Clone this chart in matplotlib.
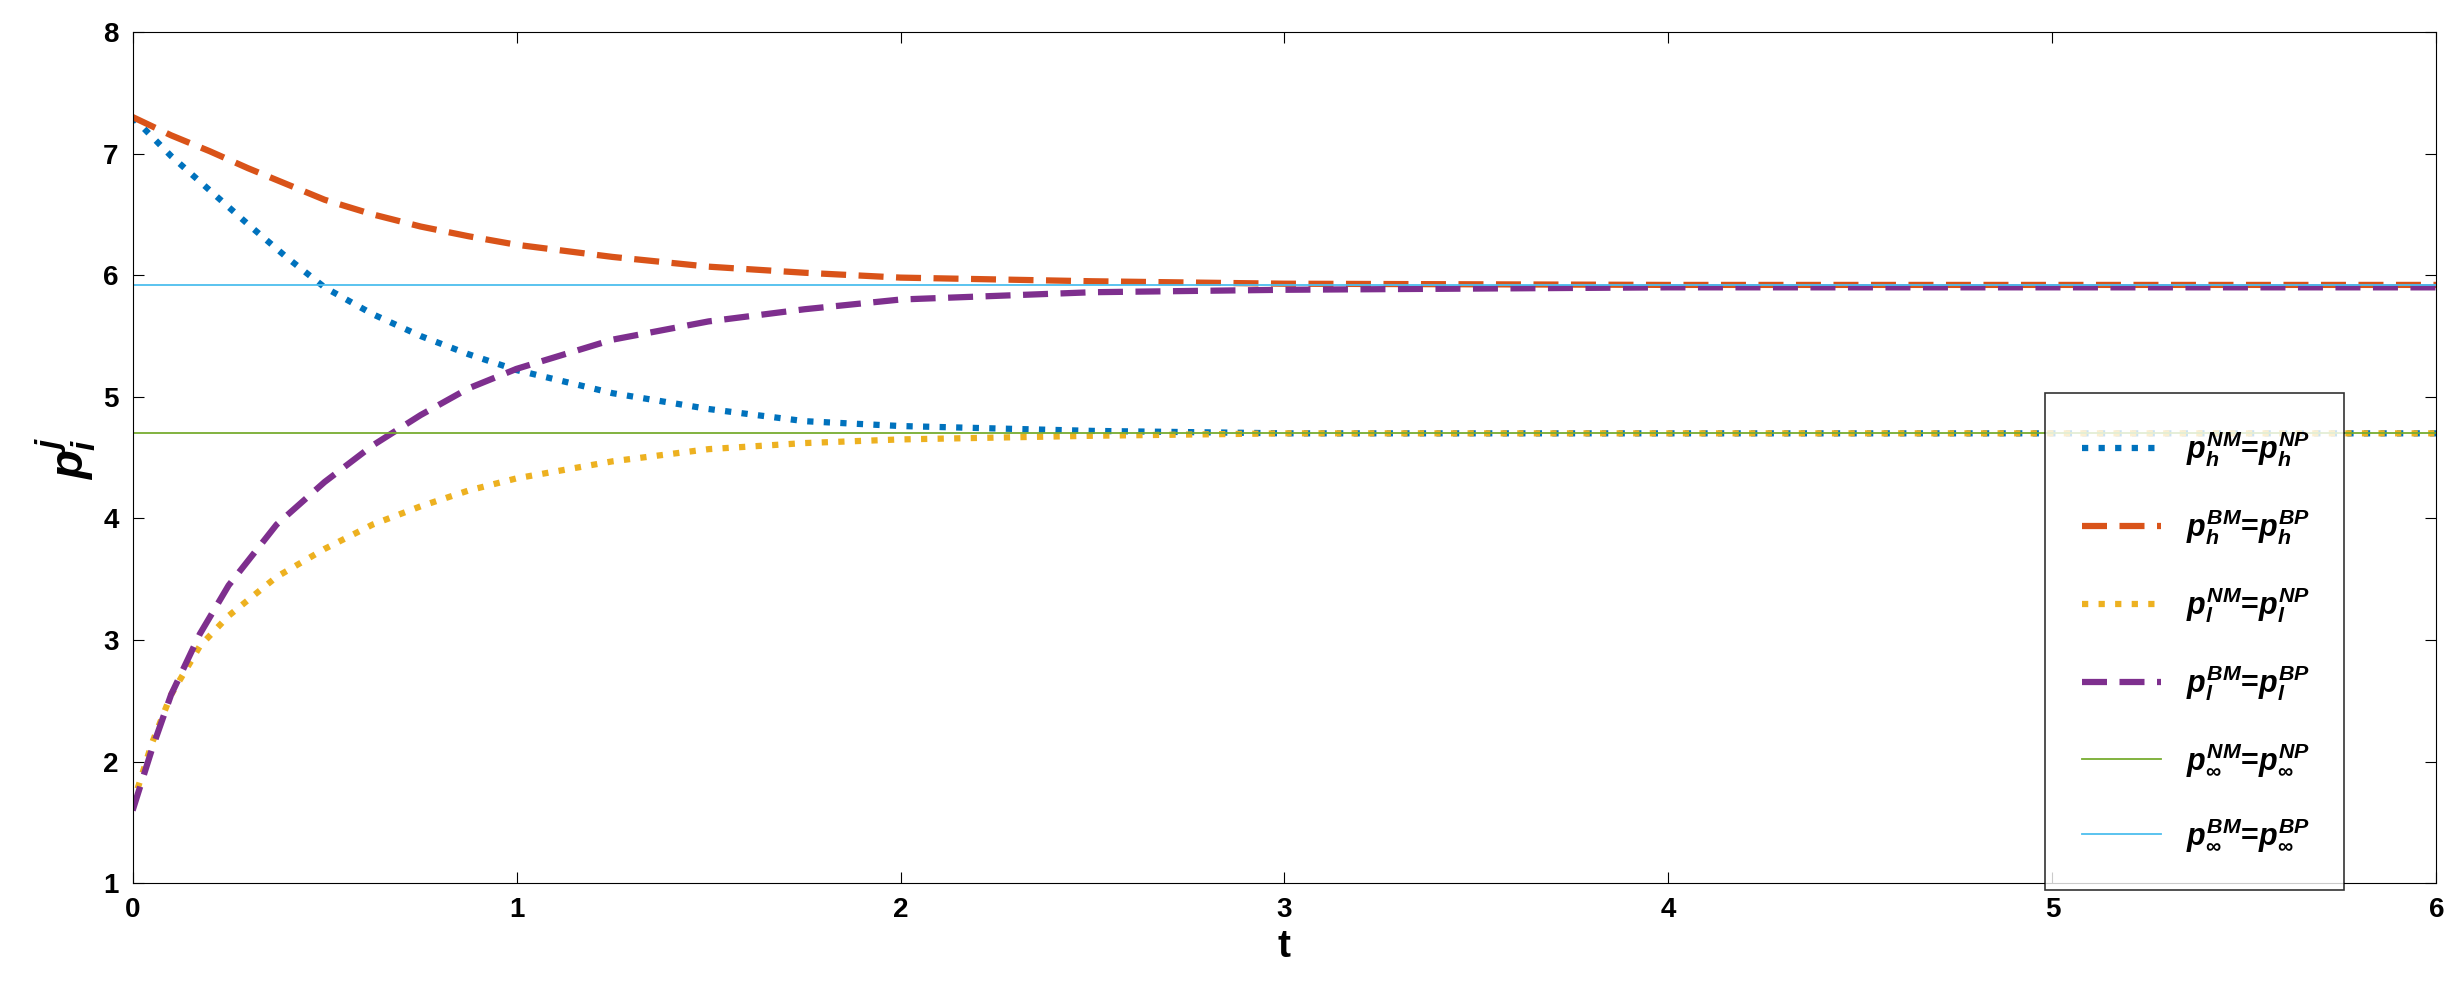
import matplotlib
matplotlib.use("Agg")
import matplotlib.pyplot as plt

plt.rcParams['font.family'] = ['Liberation Sans', 'DejaVu Sans']
plt.rcParams['font.weight'] = 'bold'
plt.rcParams['mathtext.fontset'] = 'custom'
plt.rcParams['mathtext.it'] = 'Liberation Sans:italic:bold'
plt.rcParams['mathtext.rm'] = 'Liberation Sans:bold'
plt.rcParams['mathtext.bf'] = 'Liberation Sans:bold'

t_h = [0, 0.1, 0.2, 0.3, 0.4, 0.5, 0.625, 0.75, 0.875, 1.0, 1.25, 1.5, 1.75, 2.0, 2.5, 3.0, 4.0, 6.0]
p_h_N = [7.3, 6.98, 6.7, 6.42, 6.15, 5.9, 5.68, 5.5, 5.35, 5.22, 5.03, 4.9, 4.8, 4.76, 4.72, 4.7, 4.7, 4.7]
p_h_B = [7.3, 7.15, 7.02, 6.88, 6.75, 6.62, 6.5, 6.4, 6.32, 6.25, 6.15, 6.07, 6.02, 5.98, 5.95, 5.93, 5.92, 5.92]
t_l = [0, 0.05, 0.1, 0.175, 0.25, 0.375, 0.5, 0.625, 0.75, 0.875, 1.0, 1.25, 1.5, 1.75, 2.0, 2.5, 3.0, 4.0, 6.0]
p_l_N = [1.65, 2.15, 2.55, 2.95, 3.2, 3.52, 3.75, 3.95, 4.1, 4.23, 4.33, 4.47, 4.57, 4.62, 4.65, 4.68, 4.7, 4.7, 4.7]
p_l_B = [1.6, 2.1, 2.55, 3.05, 3.45, 3.95, 4.3, 4.6, 4.85, 5.07, 5.23, 5.47, 5.62, 5.72, 5.8, 5.86, 5.88, 5.9, 5.9]
p_inf_N = 4.7
p_inf_B = 5.92

fig = plt.figure(figsize=(24.56, 9.96), dpi=100)
ax = fig.add_axes([0.054, 0.113, 0.938, 0.855])
ax.plot(t_h, p_h_N, ':', color='#0072BD', lw=4.5, label=r'$p_h^{NM}$=$p_h^{NP}$')
ax.plot(t_h, p_h_B, '--', color='#D95319', lw=4.5, dashes=(4, 2), label=r'$p_h^{BM}$=$p_h^{BP}$')
ax.plot(t_l, p_l_N, ':', color='#EDB120', lw=4.5, label=r'$p_l^{NM}$=$p_l^{NP}$')
ax.plot(t_l, p_l_B, '--', color='#7E2F8E', lw=4.5, dashes=(4, 2), label=r'$p_l^{BM}$=$p_l^{BP}$')
ax.axhline(p_inf_N, color='#77AC30', lw=1.3, label=r'$p_\infty^{NM}$=$p_\infty^{NP}$')
ax.axhline(p_inf_B, color='#4DBEEE', lw=1.3, label=r'$p_\infty^{BM}$=$p_\infty^{BP}$')
ax.set_xlim(0, 6)
ax.set_ylim(1, 8)
ax.tick_params(labelsize=20, direction='in', length=8, top=True, right=True, pad=10)
for l in ax.get_xticklabels() + ax.get_yticklabels():
    l.set_fontweight('bold')
ax.set_xlabel('t', fontsize=28, fontweight='bold')
ax.set_ylabel(r'$p_i^j$', fontsize=34)
leg = ax.legend(loc='upper left', bbox_to_anchor=(0.8265, 0.202, 0.134, 0.419), bbox_transform=fig.transFigure,
                mode='expand', fontsize=22, fancybox=False, edgecolor='black', labelspacing=1.25,
                handlelength=2.6, borderpad=1.2)
leg.get_frame().set_linewidth(1.2)
fig.savefig('out.png', dpi=100)
